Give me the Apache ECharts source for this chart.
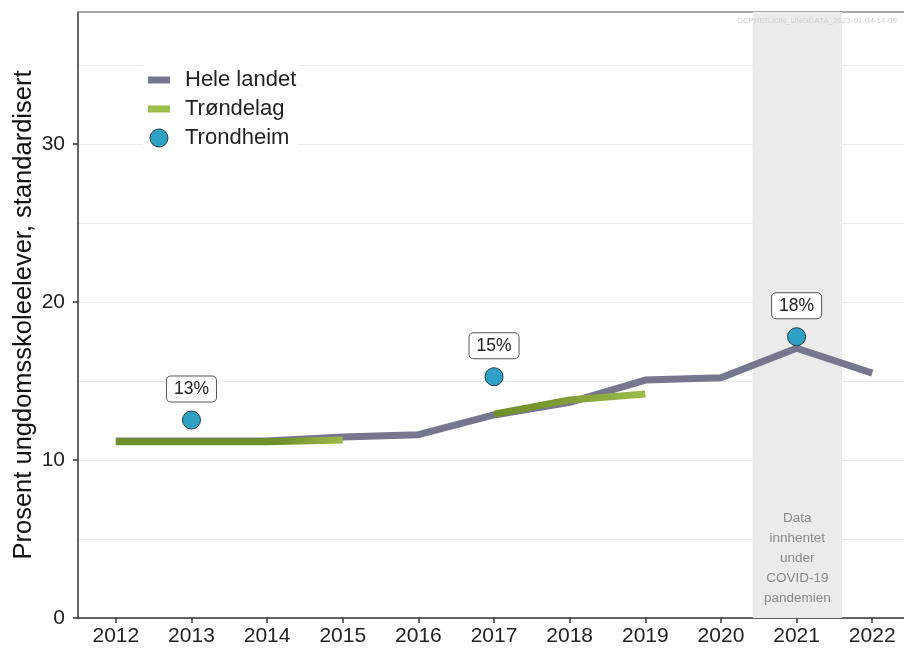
<!DOCTYPE html>
<html>
<head>
<meta charset="utf-8">
<script src="https://cdn.jsdelivr.net/npm/echarts@6/dist/echarts.min.js"></script>
<style>
  html, body { margin: 0; padding: 0; background: #fff; }
  #chart { width: 904px; height: 650px; }
</style>
</head>
<body>
<div id="chart"></div>
<script>
// år
const years = [2012, 2013, 2014, 2015, 2016, 2017, 2018, 2019, 2020, 2021, 2022];
// Hele landet
const heleLandet = [11.2, 11.2, 11.2, 11.45, 11.6, 12.85, 13.65, 15.06, 15.2, 17.07, 15.5];
// Trøndelag (to perioder)
const trondelagA = [[2012, 11.15], [2013, 11.15], [2014, 11.15], [2015, 11.27]];
const trondelagB = [[2017, 12.9], [2018, 13.8], [2019, 14.18]];
// Trondheim
const trondheimYears = [2013, 2017, 2021];
const trondheimVals = [12.53, 15.27, 17.8];
const trondheimLabels = ["13%", "15%", "18%"];
// y-akse
const yTicks = [0, 10, 20, 30];

const darkGreen = "#6f8f2a";
const lightGreen = "#9dbd4c";
const fontName = "Liberation Sans";

let myChart = echarts.init(document.getElementById("chart"));

let option = {
  animation: false,
  title: {
    text: "DEPRESJON_UNGDATA_2023-01-04-14-09",
    right: 7,
    top: 17,
    padding: 0,
    textStyle: { fontSize: 8, fontWeight: "normal", color: "#d0d0d0", fontFamily: fontName },
  },
  legend: {
    left: 143,
    top: 60,
    orient: "vertical",
    backgroundColor: "#fff",
    padding: [9, 2, 8, 5],
    itemWidth: 22,
    itemHeight: 18,
    itemGap: 7,
    textStyle: { fontSize: 22, color: "#222", fontFamily: fontName, padding: [0, 0, 0, 10] },
    data: [
      { name: "Hele landet", icon: "path://M0,0H22V7H0Z", itemStyle: { color: "#76768f" } },
      { name: "Trøndelag", icon: "path://M0,0H22V7H0Z", itemStyle: { color: lightGreen } },
      { name: "Trondheim", icon: "circle", itemStyle: { color: "#2ea1c4", borderColor: "#1d3a44", borderWidth: 1 } },
    ],
  },
  grid: {
    left: 78,
    right: 0,
    top: 12,
    bottom: 32,
    outerBoundsMode: "none",
  },
  xAxis: [
    {
      type: "value",
      min: 2011.5,
      max: 2022.42,
      splitLine: { show: false },
      axisLine: { lineStyle: { color: "#333", width: 1.5 } },
      axisTick: { length: 5, customValues: years, lineStyle: { color: "#333", width: 1.5 } },
      axisLabel: {
        fontSize: 21,
        color: "#222",
        fontFamily: fontName,
        margin: 8,
        customValues: years,
        formatter: function (v) {
          return String(v);
        },
      },
    },
    {
      type: "value",
      position: "top",
      min: 2011.5,
      max: 2022.42,
      splitLine: { show: false },
      axisLine: { show: true, lineStyle: { color: "#8a8a8a", width: 1.5 } },
      axisTick: { show: false },
      axisLabel: { show: false },
    },
  ],
  yAxis: {
    type: "value",
    min: 0,
    max: 38.35,
    interval: 10,
    name: "Prosent ungdomsskoleelever, standardisert",
    nameLocation: "middle",
    nameGap: 41,
    nameMoveOverlap: false,
    nameTextStyle: { fontSize: 25.5, color: "#111", fontFamily: fontName },
    axisLine: { show: true, lineStyle: { color: "#333", width: 1.5 } },
    axisTick: { show: true, length: 5, customValues: yTicks, lineStyle: { color: "#333", width: 1.5 } },
    axisLabel: {
      fontSize: 21,
      color: "#222",
      fontFamily: fontName,
      margin: 13,
      customValues: yTicks,
    },
    splitLine: { show: true, lineStyle: { color: "#ebebeb", width: 1.2 } },
    minorTick: { show: false, splitNumber: 2 },
    minorSplitLine: { show: true, lineStyle: { color: "#ebebeb", width: 1.2 } },
  },
  series: [
    {
      name: "Hele landet",
      type: "line",
      data: years.map((y, i) => [y, heleLandet[i]]),
      showSymbol: false,
      symbol: "none",
      lineStyle: { color: "#76768f", width: 7 },
      itemStyle: { color: "#76768f" },
      z: 2,
      markArea: {
        silent: true,
        itemStyle: { color: "#ebebeb" },
        label: {
          show: true,
          position: "insideBottom",
          distance: 10,
          color: "#8a8a8a",
          fontSize: 13.5,
          lineHeight: 20,
          fontFamily: fontName,
          formatter: "Data\ninnhentet\nunder\nCOVID-19\npandemien",
        },
        data: [[{ xAxis: 2020.42 }, { xAxis: 2021.6 }]],
      },
    },
    {
      name: "Trøndelag",
      type: "line",
      data: trondelagA,
      showSymbol: false,
      symbol: "none",
      lineStyle: {
        width: 7,
        color: new echarts.graphic.LinearGradient(0, 0, 1, 0, [
          { offset: 0, color: darkGreen },
          { offset: 0.72, color: darkGreen },
          { offset: 1, color: lightGreen },
        ]),
      },
      itemStyle: { color: lightGreen },
      z: 3,
    },
    {
      name: "Trøndelag",
      type: "line",
      data: trondelagB,
      showSymbol: false,
      symbol: "none",
      lineStyle: {
        width: 7,
        color: new echarts.graphic.LinearGradient(0, 0, 1, 0, [
          { offset: 0, color: darkGreen },
          { offset: 0.45, color: "#7f9c35" },
          { offset: 1, color: lightGreen },
        ]),
      },
      itemStyle: { color: lightGreen },
      z: 3,
    },
    {
      name: "Trondheim",
      type: "scatter",
      symbol: "circle",
      symbolSize: 18,
      data: trondheimYears.map((y, i) => ({ value: [y, trondheimVals[i]], label: { formatter: trondheimLabels[i] } })),
      itemStyle: { color: "#2ea1c4", opacity: 1, borderColor: "#1d3a44", borderWidth: 1 },
      label: {
        show: true,
        position: "top",
        distance: 9,
        fontSize: 17.5,
        color: "#222",
        fontFamily: fontName,
        backgroundColor: "#fff",
        borderColor: "#555",
        borderWidth: 1,
        borderRadius: 4,
        padding: [4, 7, 3, 7],
      },
      z: 4,
    },
  ],
};

myChart.setOption(option);
</script>
</body>
</html>
